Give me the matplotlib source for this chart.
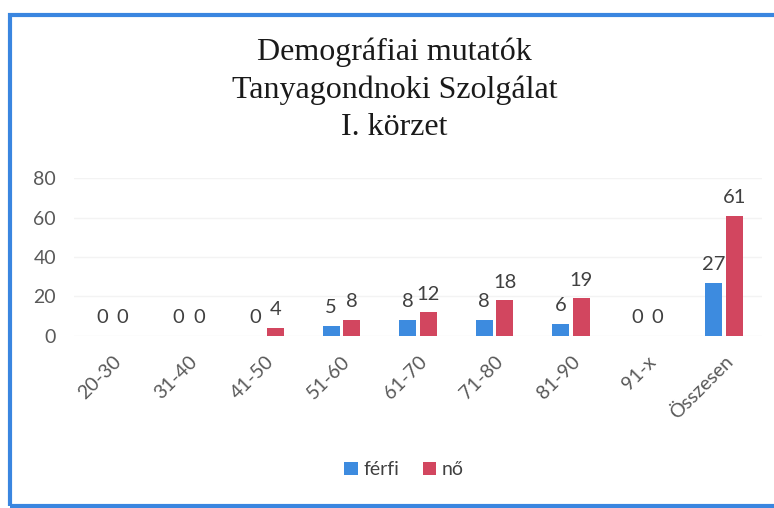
import matplotlib
matplotlib.use("Agg")
import matplotlib.pyplot as plt
import numpy as np
from matplotlib.patches import Rectangle

# ---------------------------------------------------------------------------
# Data
# ---------------------------------------------------------------------------
categories = ["20-30", "31-40", "41-50", "51-60", "61-70", "71-80", "81-90", "91-x", "Összesen"]
ferfi = [0, 0, 0, 5, 8, 8, 6, 0, 27]
no = [0, 0, 4, 8, 12, 18, 19, 0, 61]
yticks = [0, 20, 40, 60, 80]

BLUE = "#3D8BDF"
RED = "#D2465F"
TEXT = "#404040"

plt.rcParams["font.family"] = ["Lato", "DejaVu Sans"]

fig = plt.figure(figsize=(7.74, 5.08), dpi=100)
ax = fig.add_axes([0.0956, 0.3386, 0.889, 0.311])

x = np.arange(len(categories))
w = 0.22
b1 = ax.bar(x - 0.135, ferfi, w, color=BLUE, label="férfi")
b2 = ax.bar(x + 0.135, no, w, color=RED, label="nő")

for bars, vals in ((b1, ferfi), (b2, no)):
    for rect, v in zip(bars, vals):
        ax.annotate(str(v), (rect.get_x() + rect.get_width() / 2, v),
                    xytext=(0, 7), textcoords="offset points",
                    ha="center", va="bottom", fontsize=14.5, color=TEXT)

ax.set_xlim(-0.5, len(categories) - 0.5)
ax.set_ylim(0, 80)
ax.set_yticks(yticks)
ax.set_yticklabels([str(t) for t in yticks], fontsize=14, color="#595959")
ax.set_xticks(x)
ax.set_xticklabels(categories, rotation=45, ha="right", rotation_mode="anchor",
                   fontsize=14, color="#595959")
ax.tick_params(axis="both", length=0)
ax.tick_params(axis="y", pad=13)
ax.tick_params(axis="x", pad=12)
ax.grid(axis="y", color="#F3F3F3", linewidth=1)
ax.set_axisbelow(True)
for s in ax.spines.values():
    s.set_visible(False)

fig.text(0.51, 0.823, "Demográfiai mutatók\nTanyagondnoki Szolgálat\nI. körzet",
         ha="center", va="center", fontsize=23, color="#1a1a1a",
         family="Liberation Serif", linespacing=1.38)

fig.legend(handles=[b1, b2], loc="center", bbox_to_anchor=(0.522, 0.075),
           ncol=2, frameon=False, fontsize=14, handlelength=0.7, handleheight=0.7,
           handletextpad=0.3, columnspacing=1.2, labelcolor=TEXT)

# scanned frame (blue border on left, top and bottom; runs off the right edge)
fig.patches.append(Rectangle((10 / 774, 2 / 508), 1.0, (508 - 15 - 2) / 508,
                             transform=fig.transFigure, fill=False,
                             edgecolor="#3A86E0", linewidth=3))

fig.savefig("out.png", dpi=100)
